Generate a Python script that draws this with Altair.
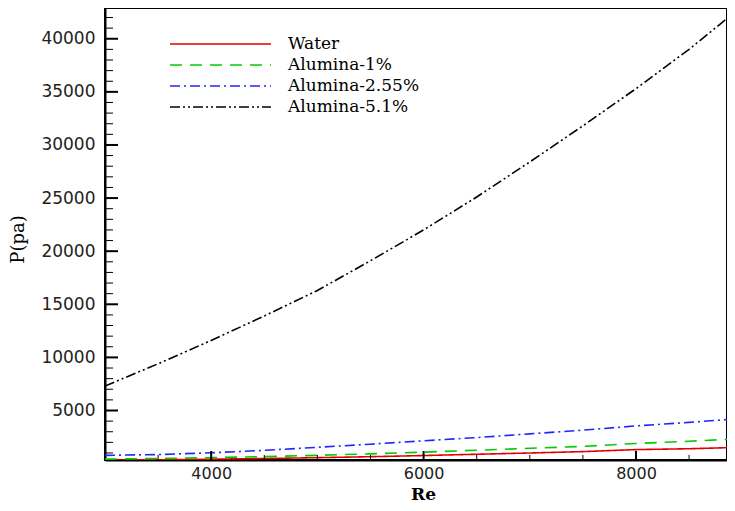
import altair as alt
import pandas as pd

# ---- data ----
re_values = [3000, 3500, 4000, 4500, 5000, 5500, 6000, 6500, 7000, 7500, 8000, 8500, 8930]
water = [330, 360, 420, 480, 560, 650, 760, 880, 1000, 1130, 1320, 1400, 1520]
alumina_1 = [420, 480, 560, 660, 780, 920, 1080, 1260, 1440, 1620, 1900, 2100, 2320]
alumina_255 = [780, 850, 1020, 1250, 1530, 1830, 2150, 2450, 2800, 3150, 3550, 3880, 4200]
alumina_51 = [7300, 9400, 11600, 13900, 16300, 19100, 22000, 25100, 28400, 31800, 35300, 39000, 42500]

series_names = ["Water", "Alumina-1%", "Alumina-2.55%", "Alumina-5.1%"]
series_colors = ["#e00000", "#00cc00", "#2424ff", "#000000"]
series_dashes = [[1, 0], [12, 8], [10, 4, 2, 4], [10, 3, 2, 3, 2, 3]]

x_major = [4000, 6000, 8000]
x_minor = [3500, 4500, 5000, 5500, 6500, 7000, 7500, 8500]
y_major = [5000, 10000, 15000, 20000, 25000, 30000, 35000, 40000]
y_minor = [v for v in range(1000, 43000, 1000) if v % 5000 != 0]

rows = []
for name, vals in zip(series_names, [water, alumina_1, alumina_255, alumina_51]):
    for r, p in zip(re_values, vals):
        rows.append({"Re": r, "P": p, "series": name})
df = pd.DataFrame(rows)

W, H = 622, 452
xscale = alt.Scale(domain=[3000, 8857], nice=False, zero=False)
yscale = alt.Scale(domain=[340, 42895], nice=False, zero=False)
cscale = alt.Scale(domain=series_names, range=series_colors)
dscale = alt.Scale(domain=series_names, range=series_dashes)

x_axis = alt.Axis(values=x_major, format="d", ticks=False, tickSize=0, grid=False,
                  labelFont="DejaVu Sans", labelFontSize=16, labelColor="#222",
                  labelPadding=5, domainColor="black", domainWidth=2,
                  title="Re", titleFont="DejaVu Serif", titleFontWeight="bold",
                  titleFontSize=17, titleColor="black", titleX=318, titleY=34,
                  titleBaseline="middle", titleAlign="center")
y_axis = alt.Axis(values=y_major, format="d", ticks=False, tickSize=0, grid=False,
                  labelFont="DejaVu Sans", labelFontSize=17, labelColor="#222",
                  labelPadding=10, domainColor="black", domainWidth=2,
                  title="P(pa)", titleFont="DejaVu Serif", titleFontWeight="normal",
                  titleFontSize=18, titleColor="black", titleX=-87, titleY=231,
                  titleAngle=270, titleBaseline="middle", titleAlign="center")

lines = alt.Chart(df).mark_line(strokeWidth=1.6, clip=True).encode(
    x=alt.X("Re:Q", scale=xscale, axis=x_axis),
    y=alt.Y("P:Q", scale=yscale, axis=y_axis),
    color=alt.Color("series:N", scale=cscale, legend=None),
    strokeDash=alt.StrokeDash("series:N", scale=dscale, legend=None),
    detail="series:N",
)

ytick_major = alt.Chart(pd.DataFrame({"P": y_major})).mark_rule(color="black", strokeWidth=2).encode(
    y=alt.Y("P:Q", scale=yscale, axis=y_axis), x=alt.value(0), x2=alt.value(13))
ytick_minor = alt.Chart(pd.DataFrame({"P": y_minor})).mark_rule(color="black", strokeWidth=1).encode(
    y=alt.Y("P:Q", scale=yscale, axis=y_axis), x=alt.value(0), x2=alt.value(8))
xtick_major = alt.Chart(pd.DataFrame({"Re": x_major})).mark_rule(color="black", strokeWidth=2).encode(
    x=alt.X("Re:Q", scale=xscale, axis=x_axis), y=alt.value(H), y2=alt.value(H - 9))
xtick_minor = alt.Chart(pd.DataFrame({"Re": x_minor})).mark_rule(color="black", strokeWidth=1).encode(
    x=alt.X("Re:Q", scale=xscale, axis=x_axis), y=alt.value(H), y2=alt.value(H - 5))

leg_df = pd.DataFrame({"series": series_names})
leg_y = alt.Y("series:N", scale=alt.Scale(type="point", domain=series_names, range=[36, 99], padding=0), axis=None)
leg_lines = alt.Chart(leg_df).mark_rule(strokeWidth=1.6).encode(
    y=leg_y, x=alt.value(65), x2=alt.value(166),
    color=alt.Color("series:N", scale=cscale, legend=None),
    strokeDash=alt.StrokeDash("series:N", scale=dscale, legend=None),
)
leg_text = alt.Chart(leg_df).mark_text(align="left", baseline="middle", font="DejaVu Serif",
                                       fontSize=17, color="black").encode(
    y=leg_y, x=alt.value(183), text="series:N")
legend = alt.layer(leg_lines, leg_text)

main = alt.layer(lines, ytick_minor, ytick_major, xtick_minor, xtick_major)

chart = alt.layer(main, legend).resolve_scale(y="independent").properties(
    width=W, height=H,
    background="white",
    autosize=alt.AutoSizeParams(type="none"),
    padding={"left": 97, "top": 0, "right": 0, "bottom": 43},
).configure_view(stroke="black", strokeWidth=2)

chart.save("out.html", embed_options={"renderer": "svg", "actions": False})
